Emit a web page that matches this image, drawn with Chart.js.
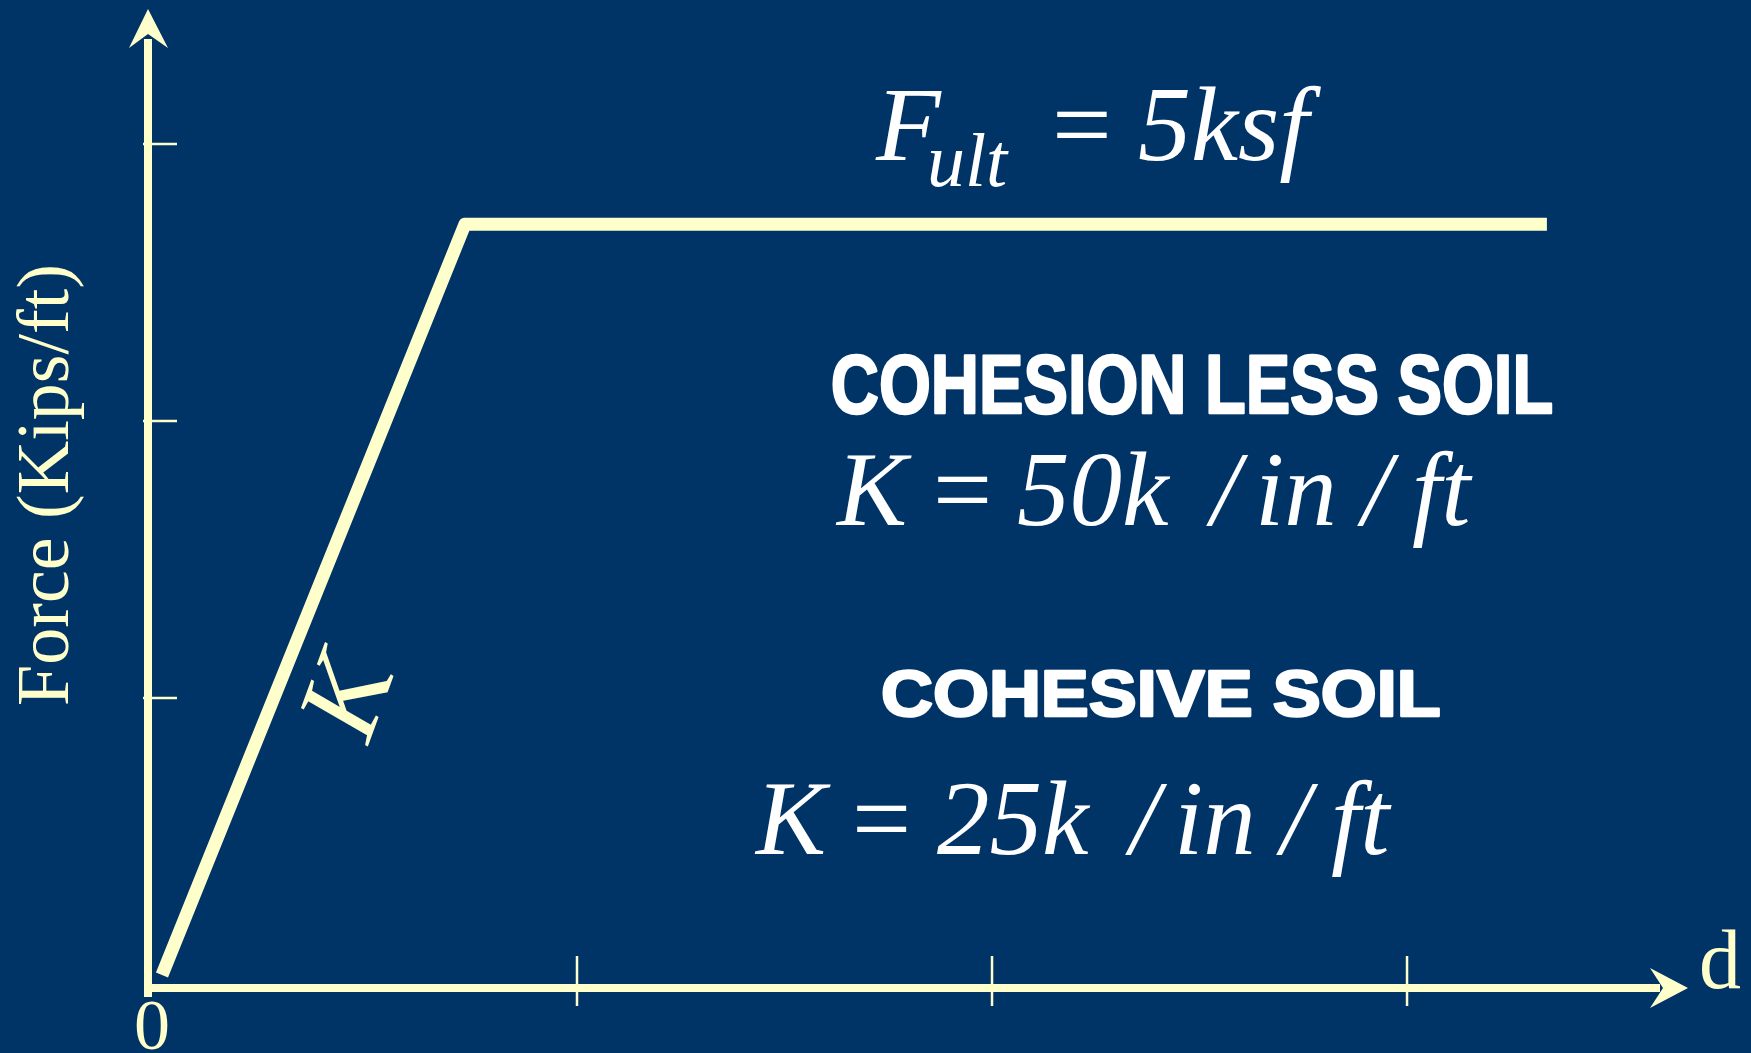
<!DOCTYPE html>
<html>
<head>
<meta charset="utf-8">
<script src="https://cdn.jsdelivr.net/npm/chart.js@4.4.0/dist/chart.umd.min.js"></script>
<style>
  html, body { margin: 0; padding: 0; background: #003366; overflow: hidden; }
  #wrap { width: 1751px; height: 1053px; }
</style>
</head>
<body>
<div id="wrap"><canvas id="chart" width="1751" height="1053"></canvas></div>
<script>
// data (axis units: one tick = 1)
const displacement = [0, 0.73, 3.337];
const force = [0, 2.71, 2.71];
const xTicks = [1, 2, 3];
const yTicks = [1, 2, 3];

const yTitle = 'Force (Kips/ft)';
const xTitle = 'd';
const originLabel = '0';
const slopeLabel = 'K';
const soilLabels = ['COHESION LESS SOIL', 'COHESIVE SOIL'];
const stiffness = ['50k', '25k'];
const ultimate = '5ksf';

const CREAM = '#ffffcc';
const NAVY = '#003366';
const WHITE = '#ffffff';
const SERIF = '"Liberation Serif", "Times New Roman", serif';
const SANS = '"Liberation Sans", Arial, sans-serif';

// draw text so that its ink starts at `left`
function inkText(ctx, str, left, baseline, font, color) {
  ctx.font = font;
  ctx.fillStyle = color;
  const m = ctx.measureText(str);
  ctx.fillText(str, left + m.actualBoundingBoxLeft, baseline);
}

// squeeze/stretch a heavy label to a given ink width
function fittedText(ctx, str, left, baseline, width, font, color, weight) {
  ctx.save();
  ctx.font = font;
  ctx.fillStyle = color;
  ctx.strokeStyle = color;
  ctx.lineJoin = 'round';
  const m = ctx.measureText(str);
  const w = m.actualBoundingBoxLeft + m.actualBoundingBoxRight + weight;
  ctx.translate(left + weight / 2, baseline - weight / 2);
  ctx.scale(width / w, 1);
  ctx.lineWidth = weight;
  ctx.strokeText(str, m.actualBoundingBoxLeft, 0);
  ctx.fillText(str, m.actualBoundingBoxLeft, 0);
  ctx.restore();
}

function stiffnessLine(ctx, value, left, baseline) {
  const it = 'italic 105px ' + SERIF;
  inkText(ctx, 'K', left, baseline, it, WHITE);
  inkText(ctx, '=', left + 103, baseline, '105px ' + SERIF, WHITE);
  inkText(ctx, value, left + 183, baseline, it, WHITE);
  inkText(ctx, '/', left + 371, baseline, it, WHITE);
  inkText(ctx, 'in', left + 425, baseline, it, WHITE);
  inkText(ctx, '/', left + 522, baseline, it, WHITE);
  inkText(ctx, 'ft', left + 578, baseline, it, WHITE);
}

const background = {
  id: 'background',
  beforeDraw(chart) {
    const ctx = chart.ctx;
    ctx.save();
    ctx.fillStyle = NAVY;
    ctx.fillRect(0, 0, chart.width, chart.height);
    ctx.restore();
  }
};

const slideAxes = {
  id: 'slideAxes',
  beforeDatasetsDraw(chart) {
    const { ctx, chartArea: a, scales } = chart;
    ctx.save();
    ctx.strokeStyle = CREAM;
    ctx.fillStyle = CREAM;

    // y axis with arrow
    ctx.lineWidth = 8;
    ctx.beginPath();
    ctx.moveTo(a.left, a.bottom + 9);
    ctx.lineTo(a.left, a.top + 30);
    ctx.stroke();
    ctx.beginPath();
    ctx.moveTo(a.left, a.top);
    ctx.lineTo(a.left + 20, a.top + 39);
    ctx.lineTo(a.left, a.top + 25);
    ctx.lineTo(a.left - 19, a.top + 39);
    ctx.closePath();
    ctx.fill();

    // x axis with arrow
    ctx.beginPath();
    ctx.moveTo(a.left, a.bottom);
    ctx.lineTo(a.right - 28, a.bottom);
    ctx.stroke();
    ctx.beginPath();
    ctx.moveTo(a.right, a.bottom);
    ctx.lineTo(a.right - 38, a.bottom + 20);
    ctx.lineTo(a.right - 25, a.bottom);
    ctx.lineTo(a.right - 38, a.bottom - 20);
    ctx.closePath();
    ctx.fill();

    // tick marks
    ctx.lineWidth = 2.5;
    xTicks.forEach((v) => {
      const x = scales.x.getPixelForValue(v);
      ctx.beginPath();
      ctx.moveTo(x, a.bottom - 32);
      ctx.lineTo(x, a.bottom + 18);
      ctx.stroke();
    });
    yTicks.forEach((v) => {
      const y = scales.y.getPixelForValue(v);
      ctx.beginPath();
      ctx.moveTo(a.left - 5, y);
      ctx.lineTo(a.left + 29, y);
      ctx.stroke();
    });
    ctx.restore();
  },
  afterDatasetsDraw(chart) {
    const { ctx, chartArea: a } = chart;
    ctx.save();
    ctx.textBaseline = 'alphabetic';
    ctx.textAlign = 'left';

    // axis titles
    ctx.save();
    ctx.translate(68, 485);
    ctx.rotate(-Math.PI / 2);
    ctx.font = '74px ' + SERIF;
    ctx.fillStyle = CREAM;
    ctx.textAlign = 'center';
    ctx.fillText(yTitle, 0, 0);
    ctx.restore();

    ctx.save();
    ctx.font = '72px ' + SERIF;
    ctx.fillStyle = CREAM;
    ctx.textAlign = 'center';
    ctx.fillText(originLabel, a.left + 4, 1049);
    ctx.restore();
    inkText(ctx, xTitle, 1702, 988, '84px ' + SERIF, CREAM);

    // slope label along the rising branch
    ctx.save();
    ctx.font = 'italic 116px ' + SERIF;
    const m = ctx.measureText(slopeLabel);
    ctx.translate(346, 694);
    ctx.rotate(-70 * Math.PI / 180);
    ctx.fillStyle = CREAM;
    ctx.fillText(slopeLabel,
      -(m.actualBoundingBoxRight - m.actualBoundingBoxLeft) / 2,
      (m.actualBoundingBoxAscent - m.actualBoundingBoxDescent) / 2);
    ctx.restore();

    // ultimate capacity
    inkText(ctx, 'F', 875, 160, 'italic 106px ' + SERIF, WHITE);
    inkText(ctx, 'ult', 930, 186, 'italic 76px ' + SERIF, WHITE);
    inkText(ctx, '=', 1057, 160, '106px ' + SERIF, WHITE);
    inkText(ctx, ultimate, 1139, 160, 'italic 106px ' + SERIF, WHITE);

    // soil cases
    fittedText(ctx, soilLabels[0], 832, 414, 720, 'bold 84px ' + SANS, WHITE, 2.5);
    stiffnessLine(ctx, stiffness[0], 835, 525);
    fittedText(ctx, soilLabels[1], 882, 717, 559, 'bold 64px ' + SANS, WHITE, 2.5);
    stiffnessLine(ctx, stiffness[1], 754, 854);

    ctx.restore();
  }
};

new Chart(document.getElementById('chart'), {
  type: 'line',
  data: {
    datasets: [{
      data: displacement.map((x, i) => ({ x, y: force[i] })),
      borderColor: CREAM,
      borderWidth: 13,
      borderJoinStyle: 'round',
      borderCapStyle: 'butt',
      pointRadius: 0,
      tension: 0,
      fill: false
    }]
  },
  options: {
    responsive: false,
    animation: false,
    events: [],
    layout: { padding: { left: 148, right: 63, top: 9, bottom: 65 } },
    scales: {
      x: { type: 'linear', min: -0.0337, max: 3.677, display: false },
      y: { type: 'linear', min: -0.0469, max: 3.487, display: false }
    },
    plugins: {
      legend: { display: false },
      tooltip: { enabled: false }
    }
  },
  plugins: [background, slideAxes]
});
</script>
</body>
</html>
